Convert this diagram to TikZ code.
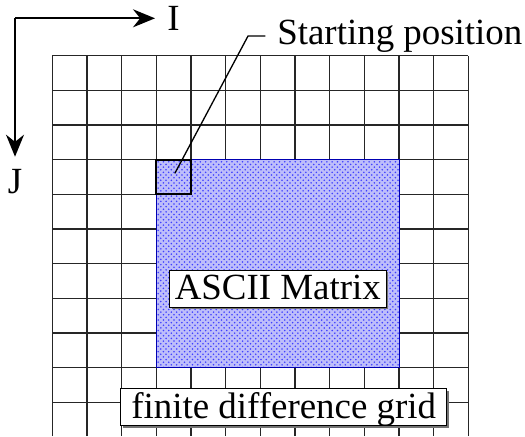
\documentclass[tikz,border=0pt]{standalone}
\usepackage{fontspec}
\setmainfont{Liberation Serif}
\usepackage{tikz}
\usetikzlibrary{arrows.meta,patterns,shadows}
\usepackage{xcolor}
\definecolor{matrixblue}{RGB}{190,190,250}

\begin{document}
\begin{tikzpicture}[x=0.6933cm,y=0.6933cm,>={Stealth[length=0.44cm,width=0.36cm]},
  font=\fontsize{21}{25}\selectfont,line cap=round,
  gridline/.style={black!85,line width=0.7pt},
  lbl/.style={inner sep=6.8pt},
  labelbox/.style={draw=black,line width=0.5pt,fill=white,inner xsep=3pt,inner ysep=1.2pt,
    text height=15.5pt,text depth=3pt,drop shadow={shadow xshift=1.2pt,shadow yshift=-1.2pt,fill=black!55,opacity=1}}]
\useasboundingbox (-1.509,-10.969) rectangle (13.634,1.607);
\draw[gridline,line cap=butt,step={(1,1)}] (0,-10.969) grid (12,0);
\fill[matrixblue] (3,-3) rectangle (10,-9);
\fill[pattern=crosshatch dots,pattern color=blue!75] (3,-3) rectangle (10,-9);
\draw[blue!70!black,line width=0.4pt] (3,-3) rectangle (10,-9);
\draw[line width=1.1pt] (3,-3) rectangle (4,-4);
\coordinate (origin) at (-1.076,1.079);
\node[lbl,right] (ilbl) at (2.962,1.079) {I};
\node[lbl,below] (jlbl) at (-1.076,-2.913) {J};
\draw[->,line width=1.1pt,line cap=butt] (origin) -- (ilbl.west);
\draw[->,line width=1.1pt,line cap=butt] (origin) -- (jlbl.north);
\coordinate (start) at (3.539,-3.384);
\coordinate (bend) at (5.645,0.568);
\node[lbl,anchor=west] (startlbl) at (6.135,0.568) {Starting position};
\draw[line width=0.75pt] (start) -- (bend) -- (startlbl.west);
\node[labelbox] (ascii) at (6.505,-6.72) {ASCII Matrix};
\node[labelbox,inner xsep=6pt] (fdgrid) at (6.674,-10.139) {finite difference grid};
\end{tikzpicture}
\end{document}
